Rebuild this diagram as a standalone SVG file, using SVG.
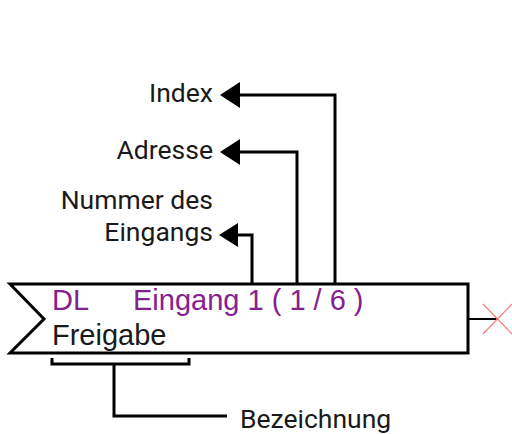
<svg xmlns="http://www.w3.org/2000/svg" width="512" height="434" viewBox="0 0 512 434">
  <defs>
    <style>
      .lbl { font-family: Roboto, "Liberation Sans", sans-serif; font-size: 26.5px; fill: #1a1a1a; }
      .blk { font-family: "Liberation Sans", Arial, sans-serif; font-size: 29px; }
      .wire { fill: none; stroke: #000; stroke-width: 3; }
      .head { fill: #000; }
    </style>
  </defs>
  <rect width="512" height="434" fill="#fff"/>

  <!-- function block -->
  <g id="block">
    <polygon points="10,284 468,284 468,353 10,353 44,319" fill="#fff" stroke="#000" stroke-width="3"/>
    <text class="blk" x="52" y="310" fill="#86208f">DL</text>
    <text class="blk" x="133" y="310" fill="#86208f">Eingang 1 ( 1 / 6 )</text>
    <text class="blk" x="52" y="345" fill="#1a1a1a">Freigabe</text>
  </g>

  <!-- unconnected output -->
  <g id="output">
    <line x1="468" y1="319" x2="497" y2="319" stroke="#000" stroke-width="2"/>
    <path d="M483,304 L512,334 M483,334 L512,304" stroke="#ff7a7a" stroke-width="1.2" fill="none"/>
  </g>

  <!-- labels -->
  <g id="label-index"><text class="lbl" x="213" y="101.5" text-anchor="end">Index</text></g>
  <g id="label-adresse"><text class="lbl" x="213" y="159" text-anchor="end">Adresse</text></g>
  <g id="label-nummer">
    <text class="lbl" x="213" y="209" text-anchor="end">Nummer des</text>
    <text class="lbl" x="213" y="241" text-anchor="end">Eingangs</text>
  </g>
  <g id="label-bezeichnung"><text class="lbl" x="240" y="428">Bezeichnung</text></g>

  <!-- connectors -->
  <g id="connectors">
    <polyline class="wire" points="335,284 335,95 238,95"/>
    <polygon class="head" points="220,95 240,82 240,108"/>
    <polyline class="wire" points="297,284 297,152 238,152"/>
    <polygon class="head" points="220,152 240,139 240,165"/>
    <polyline class="wire" points="252,284 252,235 236,235"/>
    <polygon class="head" points="219,235 238,223 238,247"/>
    <polyline class="wire" points="52,358 52,364 189,364 189,358"/>
    <polyline class="wire" points="114,364 114,416 227,416"/>
  </g>
</svg>
